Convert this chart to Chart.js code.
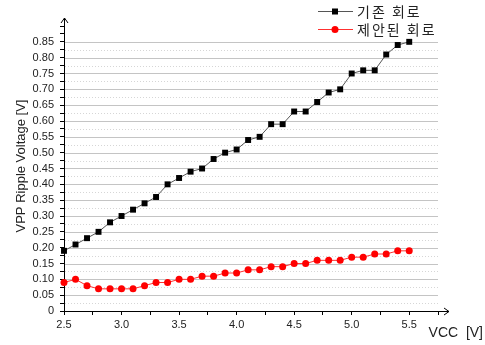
<!DOCTYPE html>
<html>
<head>
<meta charset="utf-8">
<script src="https://cdn.jsdelivr.net/npm/chart.js@4.4.1/dist/chart.umd.min.js"></script>
<style>
  html, body { margin: 0; padding: 0; background: #fff; }
  #wrap { width: 485px; height: 345px; }
</style>
</head>
<body>
<div id="wrap"><canvas id="c" width="485" height="345"></canvas></div>
<script>
// Supply voltage (V)
const vcc = [2.5, 2.6, 2.7, 2.8, 2.9, 3.0, 3.1, 3.2, 3.3, 3.4, 3.5, 3.6, 3.7, 3.8, 3.9, 4.0,
             4.1, 4.2, 4.3, 4.4, 4.5, 4.6, 4.7, 4.8, 4.9, 5.0, 5.1, 5.2, 5.3, 5.4, 5.5];
// Ripple voltage, existing circuit (V)
const existingRipple = [0.19, 0.21, 0.23, 0.25, 0.28, 0.30, 0.32, 0.34, 0.36, 0.40, 0.42, 0.44, 0.45, 0.48, 0.50, 0.51,
                        0.54, 0.55, 0.59, 0.59, 0.63, 0.63, 0.66, 0.69, 0.70, 0.75, 0.76, 0.76, 0.81, 0.84, 0.85];
// Ripple voltage, proposed circuit (V)
const proposedRipple = [0.09, 0.10, 0.08, 0.07, 0.07, 0.07, 0.07, 0.08, 0.09, 0.09, 0.10, 0.10, 0.11, 0.11, 0.12, 0.12,
                        0.13, 0.13, 0.14, 0.14, 0.15, 0.15, 0.16, 0.16, 0.16, 0.17, 0.17, 0.18, 0.18, 0.19, 0.19];
const seriesNames = ['기존 회로', '제안된 회로'];
const xTitle = 'VCC  [V]';
const yTitle = 'VPP Ripple Voltage [V]';

const pts = ys => vcc.map((x, i) => ({ x: x, y: ys[i] }));
const near = (v, step) => Math.abs(v / step - Math.round(v / step)) < 1e-6;

const TICK_FONT = { family: "'Liberation Sans', Arial, sans-serif", size: 11 };
const LEGEND_FONT = "14px 'Noto Sans CJK KR', sans-serif";

// Gridlines, axis arrows, titles and legend
const framePlugin = {
  id: 'frame',
  beforeDatasetsDraw(chart) {
    const { ctx, chartArea: a, scales: { y } } = chart;
    ctx.save();
    for (let v = 0.025; v <= 0.851; v += 0.025) {
      const py = Math.round(y.getPixelForValue(v)) + 0.5;
      const major = near(v, 0.05);
      ctx.beginPath();
      ctx.strokeStyle = major ? '#c4c4c4' : '#d6d6d6';
      ctx.lineWidth = 1;
      ctx.setLineDash(major ? [] : [1, 2]);
      ctx.moveTo(a.left + 1, py);
      ctx.lineTo(a.right, py);
      ctx.stroke();
    }
    ctx.setLineDash([]);
    // axes
    ctx.strokeStyle = '#000';
    ctx.lineWidth = 1;
    const ax = a.left + 0.5, ay = Math.round(a.bottom) + 0.5;
    ctx.beginPath();
    ctx.moveTo(ax, ay);
    ctx.lineTo(ax, 18);
    ctx.moveTo(ax, ay);
    ctx.lineTo(a.right + 11, ay);
    ctx.stroke();
    // arrowheads
    ctx.beginPath();
    ctx.moveTo(ax - 3.5, 23); ctx.lineTo(ax, 18); ctx.lineTo(ax + 3.5, 23);
    ctx.moveTo(a.right + 6, ay - 3.5); ctx.lineTo(a.right + 11, ay); ctx.lineTo(a.right + 6, ay + 3.5);
    ctx.stroke();
    ctx.restore();
  },
  afterDraw(chart) {
    const { ctx } = chart;
    ctx.save();
    ctx.fillStyle = '#222';
    // axis titles
    ctx.font = "13px 'Liberation Sans', Arial, sans-serif";
    ctx.textAlign = 'center';
    ctx.textBaseline = 'middle';
    ctx.save();
    ctx.translate(21, 166);
    ctx.rotate(-Math.PI / 2);
    ctx.fillText(yTitle, 0, 0);
    ctx.restore();
    ctx.font = "14px 'Liberation Sans', Arial, sans-serif";
    ctx.textAlign = 'right';
    ctx.fillText(xTitle, 483, 333);
    // legend
    const rows = [
      { y: 11, line: '#555', fill: '#000', style: 'rect' },
      { y: 29, line: '#ff3030', fill: '#ff0000', style: 'circle' }
    ];
    ctx.font = LEGEND_FONT;
    ctx.textAlign = 'left';
    ctx.letterSpacing = '2px';
    rows.forEach((r, i) => {
      ctx.strokeStyle = r.line;
      ctx.lineWidth = 1;
      ctx.beginPath();
      ctx.moveTo(318, r.y + 0.5);
      ctx.lineTo(353, r.y + 0.5);
      ctx.stroke();
      ctx.fillStyle = r.fill;
      if (r.style === 'rect') {
        ctx.fillRect(332, r.y - 2.5, 6, 6);
      } else {
        ctx.beginPath();
        ctx.arc(335, r.y + 0.5, 3.5, 0, Math.PI * 2);
        ctx.fill();
      }
      ctx.fillStyle = '#222';
      ctx.fillText(seriesNames[i], 357, r.y + 1);
    });
    ctx.restore();
  }
};

new Chart(document.getElementById('c'), {
  type: 'line',
  data: {
    datasets: [
      {
        label: seriesNames[0],
        data: pts(existingRipple),
        borderColor: '#555',
        borderWidth: 1,
        pointStyle: 'rect',
        pointRadius: 4.2,
        pointBackgroundColor: '#000',
        pointBorderColor: '#000',
        pointBorderWidth: 0,
        clip: false,
        tension: 0
      },
      {
        label: seriesNames[1],
        data: pts(proposedRipple),
        borderColor: '#ff3030',
        borderWidth: 1,
        pointStyle: 'circle',
        pointRadius: 3.5,
        pointBackgroundColor: '#ff0000',
        pointBorderColor: '#ff0000',
        pointBorderWidth: 0,
        clip: false,
        tension: 0
      }
    ]
  },
  options: {
    responsive: false,
    animation: false,
    events: [],
    layout: { padding: { top: 26, right: 47, left: 0, bottom: 0 } },
    plugins: { legend: { display: false }, tooltip: { enabled: false } },
    scales: {
      x: {
        type: 'linear',
        min: 2.5,
        max: 5.75,
        border: { display: false },
        grid: { drawOnChartArea: false, drawTicks: true, tickLength: 4, tickColor: '#000' },
        ticks: {
          stepSize: 0.25,
          autoSkip: false,
          maxRotation: 0,
          maxTicksLimit: 100,
          padding: 3,
          color: '#222',
          font: TICK_FONT,
          callback: v => near(v, 0.5) && v < 5.6 ? v.toFixed(1) : ''
        },
        afterFit: s => { s.height = 34; }
      },
      y: {
        type: 'linear',
        min: 0,
        max: 0.9,
        border: { display: false },
        grid: { drawOnChartArea: false, drawTicks: true, tickLength: 4, tickColor: '#000' },
        ticks: {
          stepSize: 0.025,
          autoSkip: false,
          maxTicksLimit: 100,
          padding: 6,
          color: '#222',
          font: TICK_FONT,
          callback: v => (v > 0.851 || !near(v, 0.05)) ? '' : (v === 0 ? '0' : v.toFixed(2))
        },
        afterFit: s => { s.width = 64; }
      }
    }
  },
  plugins: [framePlugin]
});
</script>
</body>
</html>
